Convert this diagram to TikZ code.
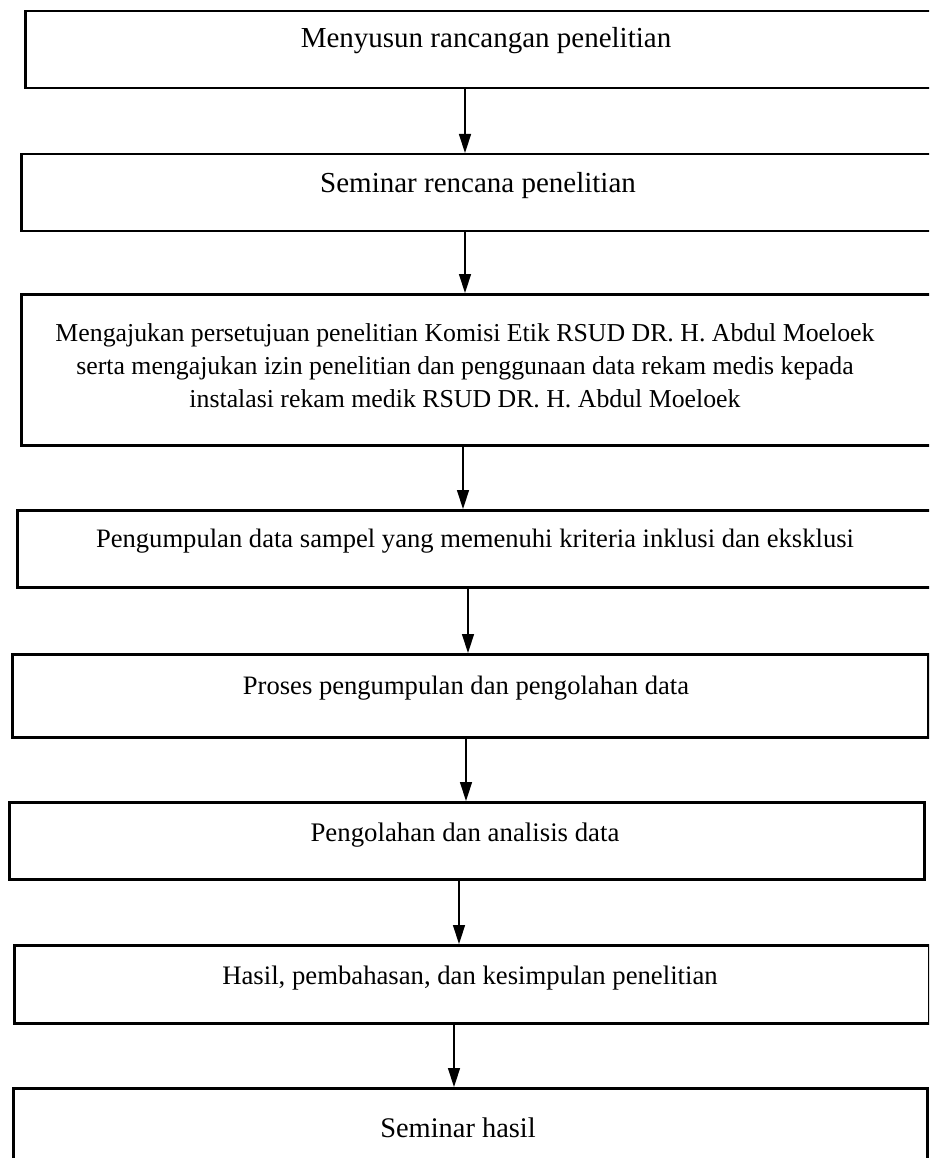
\documentclass[tikz,border=0pt]{standalone}
\usepackage{fontspec}
\setmainfont{Liberation Serif}
\usetikzlibrary{arrows.meta}
\begin{document}
\begin{tikzpicture}[x=1pt,y=-1pt,
  box/.style={draw=black, line width=2.5pt, rectangle, inner sep=0pt, anchor=north west},
  lbl/.style={inner sep=0pt, text=black},
  arr/.style={draw=black, line width=1.4pt, -{Triangle[length=19pt,width=12pt]}}]
\clip (0,0) rectangle (929,1158);
\fill[white] (0,0) rectangle (929,1158);
% boxes
\node[box, minimum width=920pt, minimum height=77pt] (b1) at (24,10) {};
\node[box, minimum width=920pt, minimum height=77pt] (b2) at (20,153) {};
\node[box, minimum width=920pt, minimum height=151pt] (b3) at (20,293) {};
\node[box, minimum width=920pt, minimum height=77pt] (b4) at (16,509) {};
\node[box, minimum width=916pt, minimum height=83pt] (b5) at (11,653) {};
\node[box, minimum width=915pt, minimum height=77pt] (b6) at (8,801) {};
\node[box, minimum width=915pt, minimum height=78pt] (b7) at (13,944) {};
\node[box, minimum width=914pt, minimum height=90pt] (b8) at (12,1087) {};
% texts
\node[lbl, anchor=base, font=\fontsize{29}{34}\selectfont] (t1) at (486,48) {Menyusun rancangan penelitian};
\node[lbl, anchor=base, font=\fontsize{29}{34}\selectfont] (t2) at (478,193) {Seminar rencana penelitian};
\node[lbl, anchor=center, align=center, font=\fontsize{25.8}{33}\selectfont] (t3) at (465,366) {Mengajukan persetujuan penelitian Komisi Etik RSUD DR. H. Abdul Moeloek\\serta mengajukan izin penelitian dan penggunaan data rekam medis kepada\\instalasi rekam medik RSUD DR. H. Abdul Moeloek};
\node[lbl, anchor=base, font=\fontsize{26.6}{31}\selectfont] (t4) at (475,547) {Pengumpulan data sampel yang memenuhi kriteria inklusi dan eksklusi};
\node[lbl, anchor=base, font=\fontsize{26.6}{31}\selectfont] (t5) at (466,694) {Proses pengumpulan dan pengolahan data};
\node[lbl, anchor=base, font=\fontsize{26.8}{31}\selectfont] (t6) at (465,841) {Pengolahan dan analisis data};
\node[lbl, anchor=base, font=\fontsize{26.7}{31}\selectfont] (t7) at (470,984) {Hasil, pembahasan, dan kesimpulan penelitian};
\node[lbl, anchor=base, font=\fontsize{28.4}{31}\selectfont] (t8) at (458,1137) {Seminar hasil};
% arrows
\draw[arr] (b1.south -| 465,0) -- (b2.north -| 465,0);
\draw[arr] (b2.south -| 465,0) -- (b3.north -| 465,0);
\draw[arr] (b3.south -| 463,0) -- (b4.north -| 463,0);
\draw[arr] (b4.south -| 468,0) -- (b5.north -| 468,0);
\draw[arr] (b5.south -| 466,0) -- (b6.north -| 466,0);
\draw[arr] (b6.south -| 459,0) -- (b7.north -| 459,0);
\draw[arr] (b7.south -| 454,0) -- (b8.north -| 454,0);
\end{tikzpicture}
\end{document}
